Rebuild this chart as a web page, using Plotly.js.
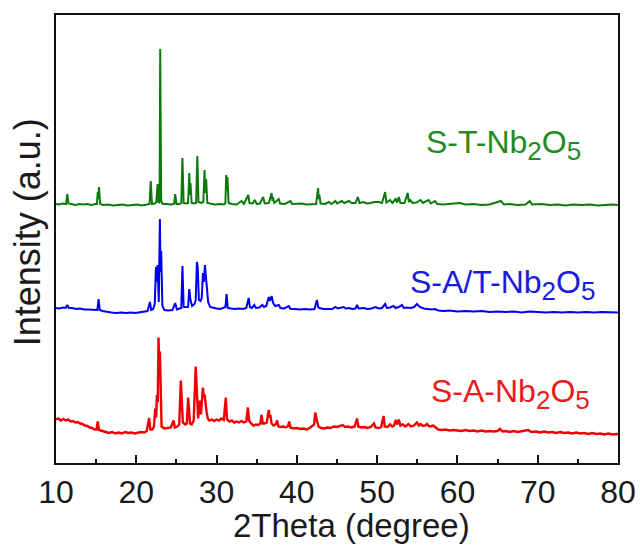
<!DOCTYPE html>
<html>
<head>
<meta charset="utf-8">
<script src="https://cdn.plot.ly/plotly-3.0.1.min.js"></script>
<style>html,body{margin:0;padding:0;background:#fff;}#chart{width:640px;height:545px;}</style>
</head>
<body>
<div id="chart"></div>
<script>
// ---- data (intensity above each pattern's own baseline, a.u.) ----
const sampleNames = ["S-T-Nb", "S-A/T-Nb", "S-A-Nb"];
const xTickVals = [10, 20, 30, 40, 50, 60, 70, 80];

const greenX = [10.0,10.4,10.8,11.25,11.4,11.55,11.9,12.4,12.9,13.4,13.9,14.4,14.9,15.1,15.2,15.28,15.35,15.5,15.9,16.5,17.1,17.7,18.3,18.9,19.5,20.1,20.7,21.2,21.65,21.8,21.95,22.3,22.5,22.65,22.78,22.9,22.98,23.1,23.3,23.8,24.3,24.7,24.85,25.0,25.4,25.6,25.75,25.9,26.2,26.45,26.6,26.68,26.75,26.9,27.2,27.45,27.6,27.75,28.1,28.35,28.5,28.6,28.7,28.85,29.3,29.8,30.4,30.9,31.1,31.2,31.28,31.35,31.5,31.9,32.5,33.1,33.4,33.95,34.1,34.5,34.75,35.0,35.4,35.8,36.0,36.5,36.85,36.95,37.0,37.2,37.75,37.9,38.5,39.2,39.4,40.0,40.6,41.2,41.8,42.4,42.65,42.72,42.8,42.95,43.5,44.0,44.3,44.8,45.0,45.6,45.9,46.5,46.8,47.3,47.6,47.8,48.3,48.7,49.2,49.6,50.2,50.6,51.0,51.15,51.6,51.9,52.3,52.5,52.7,52.9,53.4,53.8,53.95,54.1,54.4,54.9,55.4,55.7,56.4,56.7,57.2,57.5,58.2,59,60.3,61,62,63,64,65.4,65.8,66.5,67.5,68.5,69.0,69.3,70.5,71.5,72.5,73.5,74.5,75.5,76.5,77.5,78.5,79.3,80];
const greenY = [1,0.5,1.5,1,11,1.5,1,0,1,0.5,1,0,1,1,13,6,18,1,0,0.5,-0.5,0,0.5,-0.5,0,0.5,-0.5,0.5,1,24,1,1.5,3,21,2,3,156,4,1,1,0.5,1,11,1,1,2,47,2,1.5,2,32,10,22,2,1.5,2,49,3,2,3,35,12,26,2,1,0.5,1,0.5,2,30,15,28,2,1,0.5,4,1,10,2,1.5,5,1,1.5,8,1.5,2,12,4,8,2,6,1.5,1,4,1,1,1.5,0.5,1,1,17,6,10,1.5,1,3,1,4,1.5,4,2,4,2,2,8,2,3,1.5,2,3,3,2,13,2.5,5,2,6,2.5,8,2,2,12,3,5,2,2.5,5,2,5,1.5,4,1,0.5,1,2,0.5,1,0,0.5,4,0.5,1,0,0.5,4,0.5,1,0,0.5,-0.5,0.5,0,0.5,-0.5,0,0.5,0];

const blueX = [10.0,10.4,10.8,11.2,11.4,11.6,12.0,12.5,13.0,13.5,14.0,14.5,15.0,15.15,15.3,15.45,15.8,16.3,16.9,17.5,18.1,18.7,19.3,19.9,20.5,21.0,21.4,21.7,21.85,22.1,22.3,22.45,22.55,22.65,22.8,22.94,23.02,23.1,23.25,23.5,24.0,24.5,24.85,25.05,25.4,25.6,25.75,25.9,26.2,26.45,26.6,26.75,26.95,27.25,27.4,27.55,27.65,27.8,28.0,28.15,28.3,28.42,28.55,28.75,28.95,29.2,29.6,30.0,30.5,30.9,31.1,31.25,31.4,31.8,32.3,32.8,33.3,33.7,34.0,34.15,34.4,34.7,34.9,35.3,35.7,35.9,36.2,36.5,36.65,36.85,37.05,37.3,37.75,37.95,38.4,39.0,39.2,39.8,40.4,41.0,41.6,42.2,42.5,42.65,42.8,43.3,43.9,44.4,44.8,45.1,45.8,46.1,46.5,46.9,47.3,47.5,47.7,48.3,48.8,49.3,49.8,50.2,50.6,51.0,51.2,51.6,52.05,52.3,52.7,53.1,53.3,53.7,54.2,54.6,54.95,55.3,55.8,56.3,56.8,57.2,57.6,58.3,59,60,61,62,63,64,65,66,67,68,69,70,71,72,73,74,75,76,77,78,79,80];
const blueY = [4,3.5,4.5,4,7,4,4,3,3.5,2.5,2.5,2,1.5,2,13,2,1,0,-0.5,-1,-0.5,-1,-0.5,-1,-0.5,0,1,10,2,3,8,45,30,47,10,93,40,61,6,2,1.5,2,9,2.5,3,4,46,5,5,5,23,12,6,8,12,50,45,12,11,14,39,30,47,25,10,5,4,3.5,3,4,5,18,4,3.5,3,3.5,3,4,14,5,4,7,4,4.5,7,5,6,15,11,16,9,6,7,4,3.5,6,3,3,2.5,3,2.5,3,12,5,4,3,3,3,5,3.5,5,3.5,4,3,3.5,7,3.5,4,3,3.5,5,3.5,4,8,4,4.5,6,4,5,7,4,4.5,4,5,8,5,3.5,3,2.5,3,1.5,1,1.5,0.5,1,0.5,1,0,0.5,0,0.5,-0.5,0.5,0,-0.5,0,-0.5,0,-0.5,0,-0.5,0,-0.5,-0.5];

const redX = [10.0,10.3,10.6,10.9,11.2,11.5,11.8,12.1,12.4,12.7,13.0,13.3,13.6,13.9,14.2,14.5,14.8,15.05,15.2,15.35,15.6,15.9,16.2,16.6,17.0,17.4,17.8,18.2,18.6,19.0,19.4,19.8,20.2,20.6,21.0,21.3,21.6,21.75,22.0,22.2,22.36,22.47,22.57,22.68,22.77,22.85,22.94,23.05,23.15,23.5,23.9,24.3,24.64,24.8,25.1,25.35,25.55,25.6,25.65,25.8,26.1,26.3,26.46,26.56,26.7,26.9,27.15,27.4,27.5,27.6,27.7,27.9,28.05,28.3,28.4,28.5,28.65,28.75,28.9,29.1,29.4,29.7,30.0,30.3,30.6,30.9,31.15,31.3,31.6,31.9,32.2,32.5,32.8,33.1,33.4,33.7,33.9,34.05,34.3,34.6,34.9,35.2,35.45,35.6,35.75,36.0,36.25,36.5,36.6,36.7,36.85,37.1,37.35,37.55,37.7,38.0,38.3,38.6,38.9,39.05,39.2,39.6,40.0,40.4,40.8,41.2,41.6,41.9,42.15,42.3,42.4,42.5,42.7,43.0,43.4,43.8,44.2,44.6,45.0,45.4,45.7,46.0,46.4,46.8,47.2,47.5,47.65,48.0,48.4,48.8,49.2,49.6,49.8,50.2,50.5,50.8,50.95,51.3,51.6,51.9,52.1,52.3,52.5,52.7,52.9,53.2,53.5,53.9,54.2,54.6,54.95,55.2,55.4,55.7,56.0,56.2,56.5,56.8,57.0,57.3,57.6,58.0,58.5,59.0,59.5,60.0,60.5,61.0,61.5,62.0,62.5,63.0,63.5,64.0,64.5,65.0,65.3,65.6,66.0,66.5,67.0,67.5,68.0,68.8,69.2,69.8,70.3,70.8,71.3,71.8,72.3,72.8,73.3,73.8,74.3,74.8,75.3,75.8,76.3,76.8,77.3,77.8,78.3,78.8,79.3,80.0];
const redY = [13,14,12,13.5,12,13,11,11.5,10,10.5,9,8.5,7,6.5,5,4.5,3,3,11,2.5,2,1,0.5,-0.5,0.5,-1,0,-1,0.5,-0.5,0,-1,0,0.5,0,1.5,14.5,3,3,6,24,15,37.5,30,95,70,81,20,6,4,4.5,5,12,5,6,8,52,40,49,10,8,9,35,20,9,8,12,66,45,20,14,32,18,45,35,38,25,21,14,12,13,11.5,13,12,14,12.5,35,13,11,12,10,11,10,11.5,10,11,25,12,9,7,8,7.5,9,17.5,9,9,10,22.5,15,17.5,9,7,8,12,6,5.5,6,5,6.5,11,5,4,4.5,3.5,4,3,4.5,6,8,20,14,12,6,4.5,4,5,4.5,6,5.5,6.5,7.5,5.5,6,5,6,14,6,5,5.5,4.5,5.5,9,5,4.5,5.5,16.5,6,5.5,8,6,7,12.5,8,13,7,8,6,8.5,6,7,10,7,8.5,6.5,7,8.5,6,6.5,7,5,3,2.5,3,2,2.5,2,1.5,2.5,1.5,2,1,2,1,1.5,1,1.5,3.5,1,1.5,0.5,1.5,0.5,1,2.5,0.5,1,0,1,0,0.5,-0.5,0.5,-0.5,0,-1,0,-1,-0.5,-1.5,-0.5,-1.5,-1,-2,-1,-2,-1.5];

// vertical stacking offsets of the three patterns
const offsets = [258, 151, 30.5];
const lineColors = ["#0b7a0b", "#0000f0", "#f00000"];
const labelColors = ["#1f8c1f", "#1a1ae0", "#e81c1c"];

const addOff = (arr, o) => arr.map(v => v + o);
const subSz = 26;
const formula = name => name + '<sub><span style="font-size:' + subSz + 'px">2</span></sub>O<sub><span style="font-size:' + subSz + 'px">5</span></sub>';

const traces = [
  {x: greenX, y: addOff(greenY, offsets[0]), mode: "lines", line: {color: lineColors[0], width: 2}, hoverinfo: "skip"},
  {x: blueX, y: addOff(blueY, offsets[1]), mode: "lines", line: {color: lineColors[1], width: 2}, hoverinfo: "skip"},
  {x: redX, y: addOff(redY, offsets[2]), mode: "lines", line: {color: lineColors[2], width: 2.4}, hoverinfo: "skip"}
];

const fontFam = "Liberation Sans, Arial, sans-serif";
const layout = {
  width: 640, height: 545,
  margin: {l: 56, r: 22, t: 15, b: 82, pad: 0},
  paper_bgcolor: "#fff", plot_bgcolor: "#fff",
  showlegend: false,
  font: {family: fontFam, color: "#1a1a1a"},
  xaxis: {
    range: [10, 80], tickvals: xTickVals, ticktext: xTickVals.map(String),
    ticks: "inside", ticklen: 8, tickwidth: 2, tickcolor: "#111",
    minor: {dtick: 5, tick0: 10, ticks: "inside", ticklen: 4, tickwidth: 2, tickcolor: "#111"},
    showline: true, linecolor: "#111", linewidth: 2, mirror: true,
    showgrid: false, zeroline: false,
    tickfont: {size: 32, family: fontFam, color: "#1a1a1a"}
  },
  yaxis: {
    range: [0, 448], showticklabels: false, ticks: "",
    showline: true, linecolor: "#111", linewidth: 2, mirror: true,
    showgrid: false, zeroline: false
  },
  annotations: [
    {text: "2Theta (degree)", xref: "paper", yref: "paper", x: 0.525, y: 0, yshift: -62,
     xanchor: "center", yanchor: "middle", showarrow: false,
     font: {size: 33, family: fontFam, color: "#1a1a1a"}},
    {text: "Intensity (a.u.)", xref: "paper", yref: "paper", x: 0, y: 0.515, xshift: -29,
     xanchor: "center", yanchor: "middle", textangle: -90, showarrow: false,
     font: {size: 36, family: fontFam, color: "#1a1a1a"}},
    {text: formula(sampleNames[0]), xref: "x", yref: "y", x: 55.8, y: 318, xanchor: "left", yanchor: "middle",
     showarrow: false, font: {size: 32, family: fontFam, color: labelColors[0]}},
    {text: formula(sampleNames[1]), xref: "x", yref: "y", x: 53.9, y: 178, xanchor: "left", yanchor: "middle",
     showarrow: false, font: {size: 32, family: fontFam, color: labelColors[1]}},
    {text: formula(sampleNames[2]), xref: "x", yref: "y", x: 56.4, y: 69, xanchor: "left", yanchor: "middle",
     showarrow: false, font: {size: 32, family: fontFam, color: labelColors[2]}}
  ]
};

Plotly.newPlot("chart", traces, layout, {staticPlot: true, displayModeBar: false});
</script>
</body>
</html>
